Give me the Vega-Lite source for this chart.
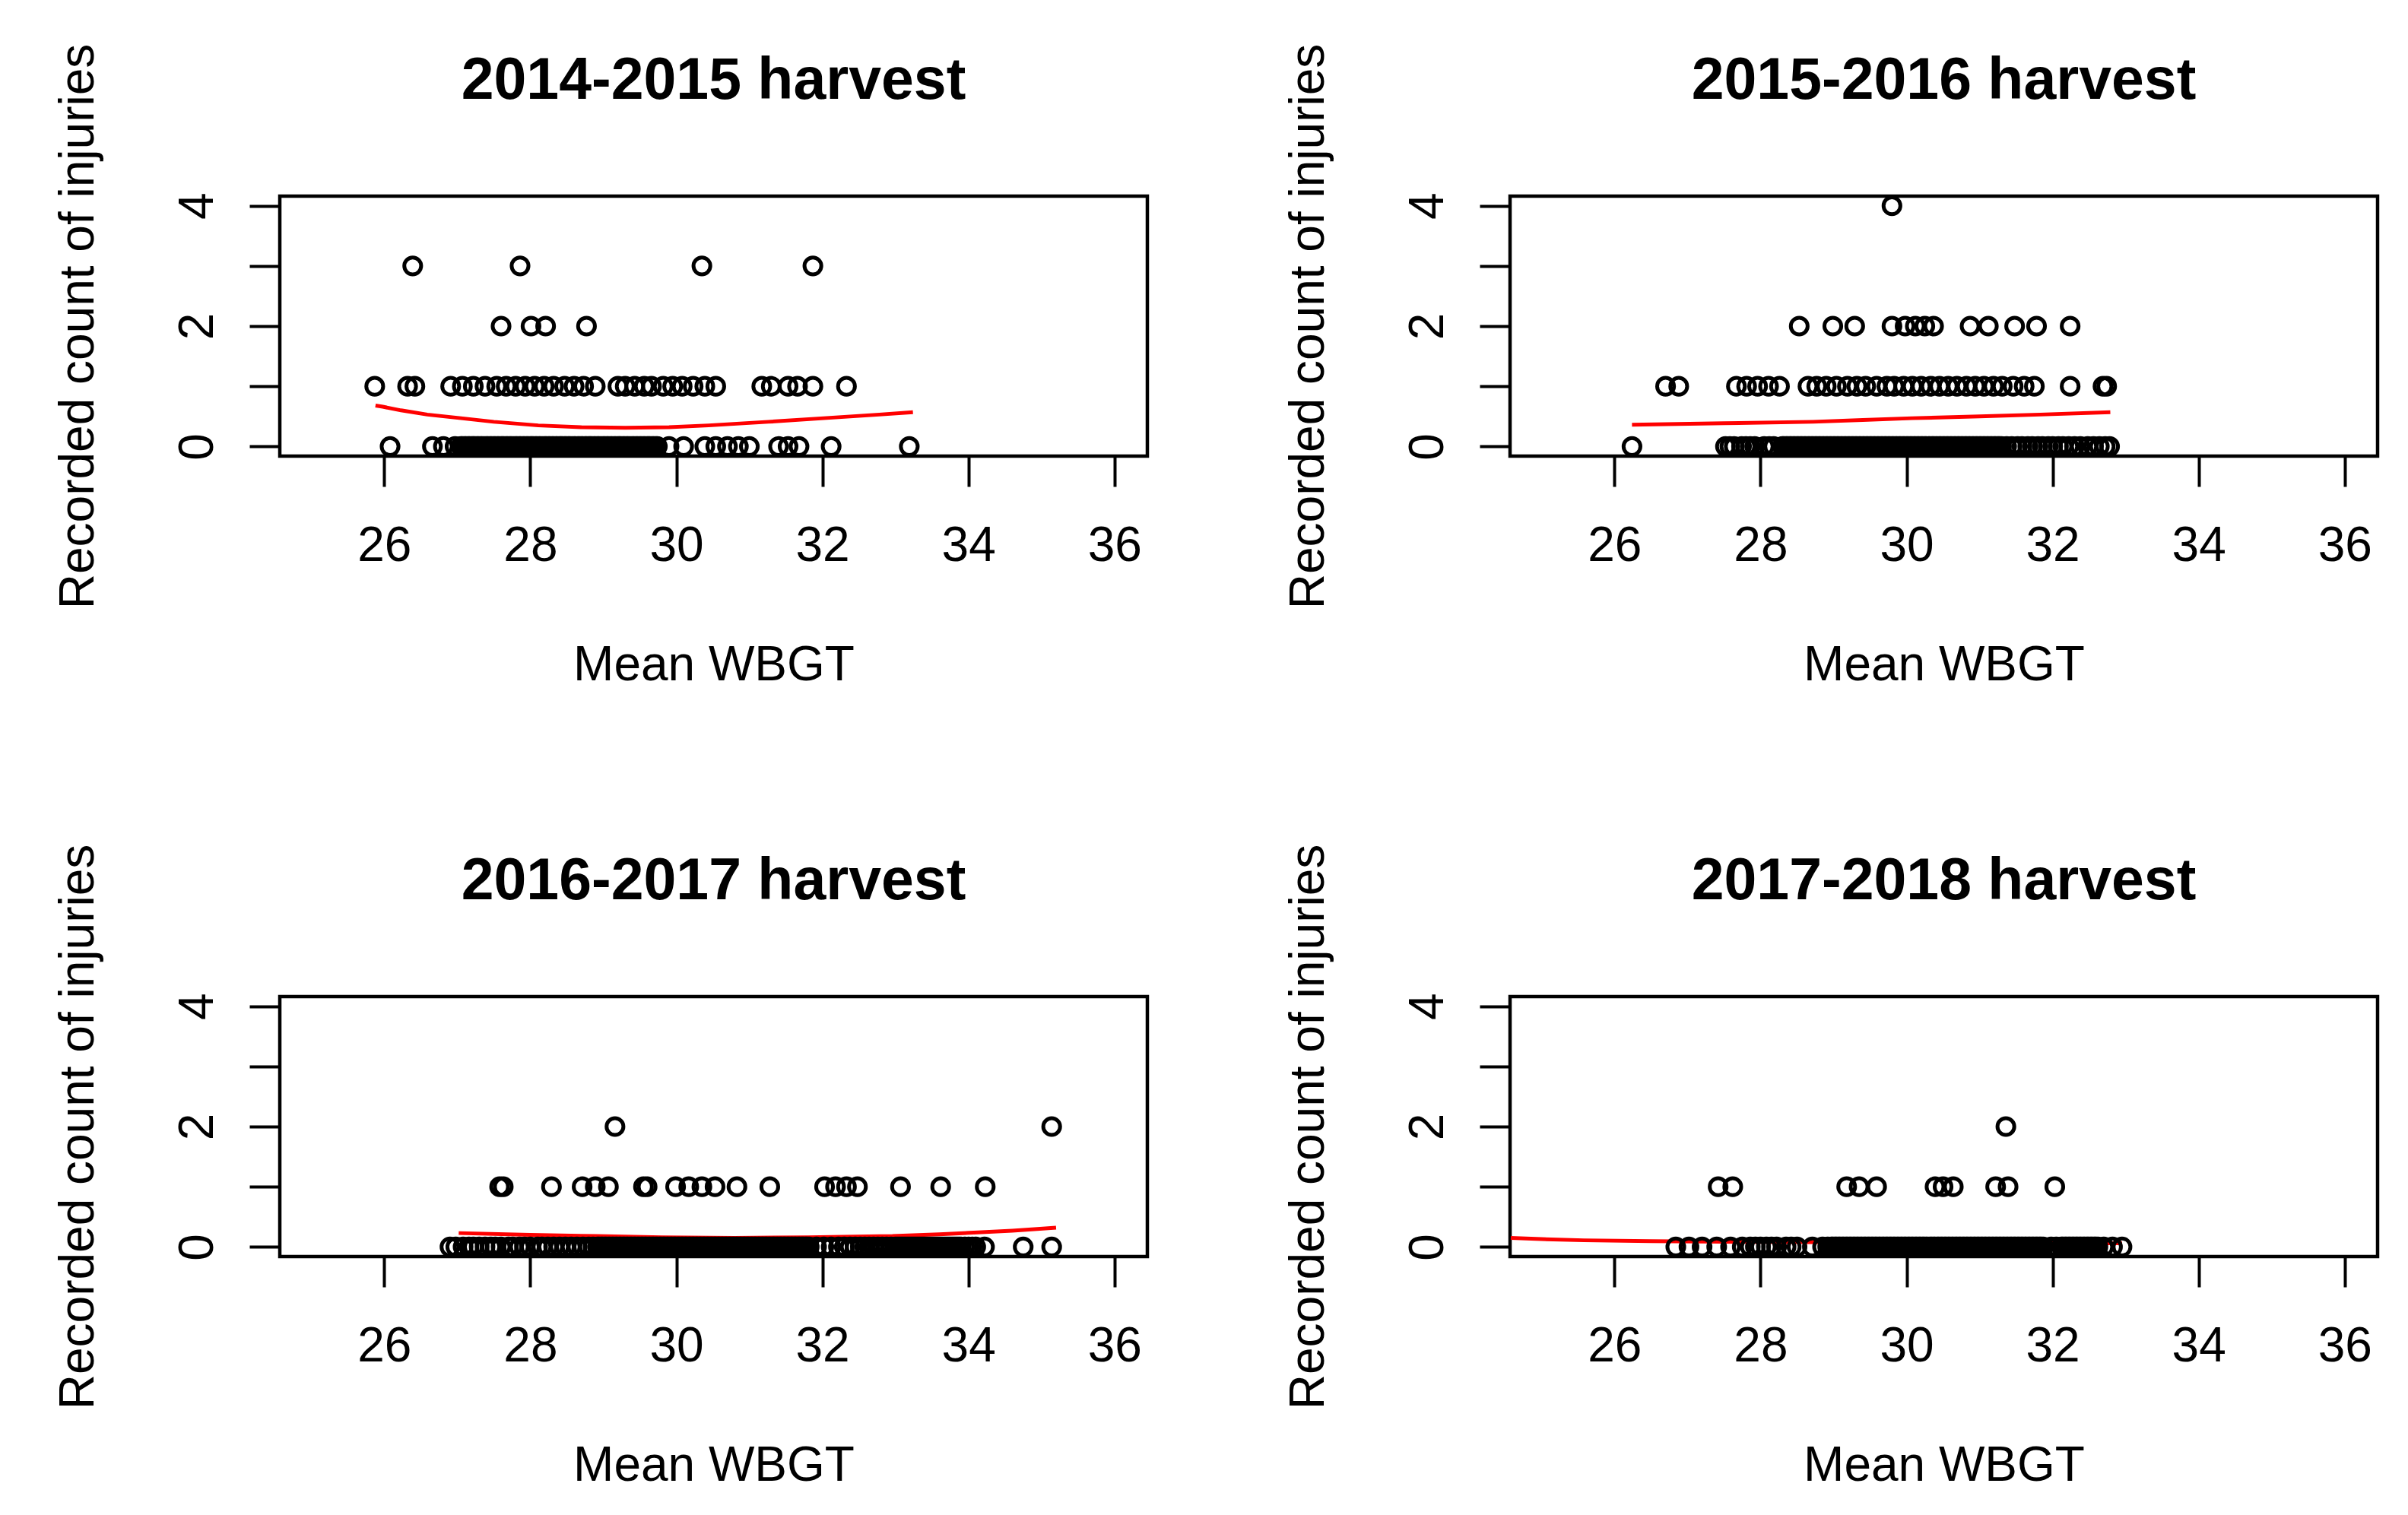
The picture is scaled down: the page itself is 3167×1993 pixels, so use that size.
{
"$schema": "https://vega.github.io/schema/vega-lite/v6.json",
"padding": {"left": 68, "top": 54, "right": 5, "bottom": 5},
"background": "white",
"bounds": "flush",
"columns": 2,
"spacing": {"row": 711, "column": 477},
"datasets": {
"fit": [
{"p":1,"w":25.88,"v":0.68},{"p":1,"w":25.98,"v":0.66},{"p":1,"w":26.23,"v":0.60},{"p":1,"w":26.59,"v":0.53},{"p":1,"w":27.05,"v":0.47},{"p":1,"w":27.5,"v":0.41},{"p":1,"w":28.11,"v":0.35},{"p":1,"w":28.7,"v":0.32},{"p":1,"w":29.3,"v":0.31},{"p":1,"w":29.9,"v":0.32},{"p":1,"w":30.44,"v":0.35},{"p":1,"w":31.26,"v":0.41},{"p":1,"w":32.02,"v":0.47},{"p":1,"w":32.78,"v":0.53},{"p":1,"w":33.24,"v":0.57},
{"p":2,"w":26.24,"v":0.36},{"p":2,"w":27.5,"v":0.385},{"p":2,"w":28.72,"v":0.41},{"p":2,"w":29.4,"v":0.44},{"p":2,"w":30.08,"v":0.47},{"p":2,"w":31.0,"v":0.50},{"p":2,"w":31.83,"v":0.53},{"p":2,"w":32.79,"v":0.57},
{"p":3,"w":27.02,"v":0.23},{"p":3,"w":28.0,"v":0.20},{"p":3,"w":28.9,"v":0.18},{"p":3,"w":29.8,"v":0.16},{"p":3,"w":30.8,"v":0.15},{"p":3,"w":31.8,"v":0.16},{"p":3,"w":32.96,"v":0.18},{"p":3,"w":33.6,"v":0.21},{"p":3,"w":34.13,"v":0.24},{"p":3,"w":34.6,"v":0.27},{"p":3,"w":34.98,"v":0.30},{"p":3,"w":35.2,"v":0.32},
{"p":4,"w":24.58,"v":0.15},{"p":4,"w":25.0,"v":0.13},{"p":4,"w":25.58,"v":0.11},{"p":4,"w":26.5,"v":0.095},{"p":4,"w":27.5,"v":0.085},{"p":4,"w":28.5,"v":0.08},{"p":4,"w":29.5,"v":0.075},{"p":4,"w":30.5,"v":0.07},{"p":4,"w":31.5,"v":0.065},{"p":4,"w":32.95,"v":0.06}
],
"pts": [
{"p":1,"w":26.39,"v":3},{"p":1,"w":27.86,"v":3},{"p":1,"w":30.35,"v":3},{"p":1,"w":31.87,"v":3},
{"p":1,"w":27.60,"v":2},{"p":1,"w":28.01,"v":2},{"p":1,"w":28.21,"v":2},{"p":1,"w":28.77,"v":2},
{"p":1,"w":25.87,"v":1},{"p":1,"w":26.32,"v":1},{"p":1,"w":26.42,"v":1},{"p":1,"w":26.91,"v":1},{"p":1,"w":27.07,"v":1},{"p":1,"w":27.22,"v":1},{"p":1,"w":27.38,"v":1},{"p":1,"w":27.54,"v":1},{"p":1,"w":27.67,"v":1},{"p":1,"w":27.80,"v":1},{"p":1,"w":27.93,"v":1},{"p":1,"w":28.06,"v":1},{"p":1,"w":28.19,"v":1},{"p":1,"w":28.32,"v":1},{"p":1,"w":28.47,"v":1},{"p":1,"w":28.60,"v":1},{"p":1,"w":28.73,"v":1},{"p":1,"w":28.89,"v":1},{"p":1,"w":29.20,"v":1},{"p":1,"w":29.30,"v":1},{"p":1,"w":29.43,"v":1},{"p":1,"w":29.56,"v":1},{"p":1,"w":29.66,"v":1},{"p":1,"w":29.82,"v":1},{"p":1,"w":29.95,"v":1},{"p":1,"w":30.08,"v":1},{"p":1,"w":30.23,"v":1},{"p":1,"w":30.39,"v":1},{"p":1,"w":30.54,"v":1},{"p":1,"w":31.17,"v":1},{"p":1,"w":31.30,"v":1},{"p":1,"w":31.53,"v":1},{"p":1,"w":31.66,"v":1},{"p":1,"w":31.87,"v":1},{"p":1,"w":32.33,"v":1},
{"p":1,"w":26.08,"v":0},{"p":1,"w":26.66,"v":0},{"p":1,"w":26.81,"v":0},{"p":1,"w":26.97,"v":0},{"p":1,"w":27.05,"v":0},{"p":1,"w":27.10,"v":0},{"p":1,"w":27.15,"v":0},{"p":1,"w":27.20,"v":0},{"p":1,"w":27.24,"v":0},{"p":1,"w":27.29,"v":0},{"p":1,"w":27.34,"v":0},{"p":1,"w":27.40,"v":0},{"p":1,"w":27.45,"v":0},{"p":1,"w":27.50,"v":0},{"p":1,"w":27.55,"v":0},{"p":1,"w":27.60,"v":0},{"p":1,"w":27.64,"v":0},{"p":1,"w":27.69,"v":0},{"p":1,"w":27.74,"v":0},{"p":1,"w":27.80,"v":0},{"p":1,"w":27.85,"v":0},{"p":1,"w":27.90,"v":0},{"p":1,"w":27.95,"v":0},{"p":1,"w":28.00,"v":0},{"p":1,"w":28.04,"v":0},{"p":1,"w":28.09,"v":0},{"p":1,"w":28.14,"v":0},{"p":1,"w":28.20,"v":0},{"p":1,"w":28.25,"v":0},{"p":1,"w":28.30,"v":0},{"p":1,"w":28.35,"v":0},{"p":1,"w":28.40,"v":0},{"p":1,"w":28.44,"v":0},{"p":1,"w":28.49,"v":0},{"p":1,"w":28.54,"v":0},{"p":1,"w":28.60,"v":0},{"p":1,"w":28.65,"v":0},{"p":1,"w":28.70,"v":0},{"p":1,"w":28.75,"v":0},{"p":1,"w":28.80,"v":0},{"p":1,"w":28.84,"v":0},{"p":1,"w":28.89,"v":0},{"p":1,"w":28.94,"v":0},{"p":1,"w":29.00,"v":0},{"p":1,"w":29.05,"v":0},{"p":1,"w":29.10,"v":0},{"p":1,"w":29.15,"v":0},{"p":1,"w":29.20,"v":0},{"p":1,"w":29.24,"v":0},{"p":1,"w":29.29,"v":0},{"p":1,"w":29.34,"v":0},{"p":1,"w":29.40,"v":0},{"p":1,"w":29.45,"v":0},{"p":1,"w":29.50,"v":0},{"p":1,"w":29.55,"v":0},{"p":1,"w":29.60,"v":0},{"p":1,"w":29.64,"v":0},{"p":1,"w":29.69,"v":0},{"p":1,"w":29.74,"v":0},{"p":1,"w":29.90,"v":0},{"p":1,"w":30.10,"v":0},{"p":1,"w":30.39,"v":0},{"p":1,"w":30.54,"v":0},{"p":1,"w":30.70,"v":0},{"p":1,"w":30.85,"v":0},{"p":1,"w":31.00,"v":0},{"p":1,"w":31.40,"v":0},{"p":1,"w":31.53,"v":0},{"p":1,"w":31.68,"v":0},{"p":1,"w":32.12,"v":0},{"p":1,"w":33.19,"v":0},
{"p":1,"w":27.07,"v":0},{"p":1,"w":27.12,"v":0},{"p":1,"w":27.17,"v":0},{"p":1,"w":27.22,"v":0},{"p":1,"w":27.27,"v":0},{"p":1,"w":27.32,"v":0},{"p":1,"w":27.37,"v":0},{"p":1,"w":27.42,"v":0},{"p":1,"w":27.47,"v":0},{"p":1,"w":27.52,"v":0},{"p":1,"w":27.57,"v":0},{"p":1,"w":27.62,"v":0},{"p":1,"w":27.67,"v":0},{"p":1,"w":27.72,"v":0},{"p":1,"w":27.77,"v":0},{"p":1,"w":27.82,"v":0},{"p":1,"w":27.87,"v":0},{"p":1,"w":27.92,"v":0},{"p":1,"w":27.97,"v":0},{"p":1,"w":28.02,"v":0},{"p":1,"w":28.07,"v":0},{"p":1,"w":28.12,"v":0},{"p":1,"w":28.17,"v":0},{"p":1,"w":28.22,"v":0},{"p":1,"w":28.27,"v":0},{"p":1,"w":28.32,"v":0},{"p":1,"w":28.37,"v":0},{"p":1,"w":28.42,"v":0},{"p":1,"w":28.47,"v":0},{"p":1,"w":28.52,"v":0},{"p":1,"w":28.57,"v":0},{"p":1,"w":28.62,"v":0},{"p":1,"w":28.67,"v":0},{"p":1,"w":28.72,"v":0},{"p":1,"w":28.77,"v":0},{"p":1,"w":28.82,"v":0},{"p":1,"w":28.87,"v":0},{"p":1,"w":28.92,"v":0},{"p":1,"w":28.97,"v":0},{"p":1,"w":29.02,"v":0},{"p":1,"w":29.07,"v":0},{"p":1,"w":29.12,"v":0},{"p":1,"w":29.17,"v":0},{"p":1,"w":29.22,"v":0},{"p":1,"w":29.27,"v":0},{"p":1,"w":29.32,"v":0},{"p":1,"w":29.37,"v":0},{"p":1,"w":29.42,"v":0},{"p":1,"w":29.47,"v":0},{"p":1,"w":29.52,"v":0},{"p":1,"w":29.57,"v":0},{"p":1,"w":29.62,"v":0},{"p":1,"w":29.67,"v":0},{"p":1,"w":29.72,"v":0},
{"p":2,"w":29.80,"v":4},
{"p":2,"w":28.53,"v":2},{"p":2,"w":28.99,"v":2},{"p":2,"w":29.29,"v":2},{"p":2,"w":29.80,"v":2},{"p":2,"w":29.98,"v":2},{"p":2,"w":30.12,"v":2},{"p":2,"w":30.25,"v":2},{"p":2,"w":30.37,"v":2},{"p":2,"w":30.87,"v":2},{"p":2,"w":31.12,"v":2},{"p":2,"w":31.48,"v":2},{"p":2,"w":31.78,"v":2},{"p":2,"w":32.24,"v":2},
{"p":2,"w":26.70,"v":1},{"p":2,"w":26.88,"v":1},{"p":2,"w":27.67,"v":1},{"p":2,"w":27.81,"v":1},{"p":2,"w":27.96,"v":1},{"p":2,"w":28.11,"v":1},{"p":2,"w":28.26,"v":1},{"p":2,"w":28.65,"v":1},{"p":2,"w":28.77,"v":1},{"p":2,"w":28.90,"v":1},{"p":2,"w":29.04,"v":1},{"p":2,"w":29.19,"v":1},{"p":2,"w":29.32,"v":1},{"p":2,"w":29.44,"v":1},{"p":2,"w":29.59,"v":1},{"p":2,"w":29.73,"v":1},{"p":2,"w":29.83,"v":1},{"p":2,"w":29.96,"v":1},{"p":2,"w":30.08,"v":1},{"p":2,"w":30.20,"v":1},{"p":2,"w":30.33,"v":1},{"p":2,"w":30.45,"v":1},{"p":2,"w":30.57,"v":1},{"p":2,"w":30.69,"v":1},{"p":2,"w":30.82,"v":1},{"p":2,"w":30.94,"v":1},{"p":2,"w":31.06,"v":1},{"p":2,"w":31.19,"v":1},{"p":2,"w":31.31,"v":1},{"p":2,"w":31.46,"v":1},{"p":2,"w":31.61,"v":1},{"p":2,"w":31.75,"v":1},{"p":2,"w":32.24,"v":1},{"p":2,"w":32.69,"v":1},{"p":2,"w":32.74,"v":1},
{"p":2,"w":26.24,"v":0},{"p":2,"w":27.52,"v":0},{"p":2,"w":27.58,"v":0},{"p":2,"w":27.64,"v":0},{"p":2,"w":27.74,"v":0},{"p":2,"w":27.80,"v":0},{"p":2,"w":27.86,"v":0},{"p":2,"w":27.92,"v":0},{"p":2,"w":28.05,"v":0},{"p":2,"w":28.12,"v":0},{"p":2,"w":28.18,"v":0},{"p":2,"w":28.30,"v":0},{"p":2,"w":28.35,"v":0},{"p":2,"w":28.40,"v":0},{"p":2,"w":28.45,"v":0},{"p":2,"w":28.50,"v":0},{"p":2,"w":28.55,"v":0},{"p":2,"w":28.60,"v":0},{"p":2,"w":28.65,"v":0},{"p":2,"w":28.70,"v":0},{"p":2,"w":28.75,"v":0},{"p":2,"w":28.80,"v":0},{"p":2,"w":28.85,"v":0},{"p":2,"w":28.90,"v":0},{"p":2,"w":28.95,"v":0},{"p":2,"w":29.00,"v":0},{"p":2,"w":29.05,"v":0},{"p":2,"w":29.10,"v":0},{"p":2,"w":29.15,"v":0},{"p":2,"w":29.20,"v":0},{"p":2,"w":29.25,"v":0},{"p":2,"w":29.30,"v":0},{"p":2,"w":29.35,"v":0},{"p":2,"w":29.40,"v":0},{"p":2,"w":29.45,"v":0},{"p":2,"w":29.50,"v":0},{"p":2,"w":29.55,"v":0},{"p":2,"w":29.60,"v":0},{"p":2,"w":29.65,"v":0},{"p":2,"w":29.70,"v":0},{"p":2,"w":29.75,"v":0},{"p":2,"w":29.80,"v":0},{"p":2,"w":29.85,"v":0},{"p":2,"w":29.90,"v":0},{"p":2,"w":29.95,"v":0},{"p":2,"w":30.00,"v":0},{"p":2,"w":30.05,"v":0},{"p":2,"w":30.10,"v":0},{"p":2,"w":30.15,"v":0},{"p":2,"w":30.20,"v":0},{"p":2,"w":30.25,"v":0},{"p":2,"w":30.30,"v":0},{"p":2,"w":30.35,"v":0},{"p":2,"w":30.40,"v":0},{"p":2,"w":30.45,"v":0},{"p":2,"w":30.50,"v":0},{"p":2,"w":30.55,"v":0},{"p":2,"w":30.60,"v":0},{"p":2,"w":30.65,"v":0},{"p":2,"w":30.70,"v":0},{"p":2,"w":30.75,"v":0},{"p":2,"w":30.80,"v":0},{"p":2,"w":30.85,"v":0},{"p":2,"w":30.90,"v":0},{"p":2,"w":30.95,"v":0},{"p":2,"w":31.00,"v":0},{"p":2,"w":31.05,"v":0},{"p":2,"w":31.10,"v":0},{"p":2,"w":31.15,"v":0},{"p":2,"w":31.20,"v":0},{"p":2,"w":31.25,"v":0},{"p":2,"w":31.30,"v":0},{"p":2,"w":31.37,"v":0},{"p":2,"w":31.44,"v":0},{"p":2,"w":31.52,"v":0},{"p":2,"w":31.58,"v":0},{"p":2,"w":31.66,"v":0},{"p":2,"w":31.72,"v":0},{"p":2,"w":31.80,"v":0},{"p":2,"w":31.86,"v":0},{"p":2,"w":31.94,"v":0},{"p":2,"w":32.00,"v":0},{"p":2,"w":32.08,"v":0},{"p":2,"w":32.14,"v":0},{"p":2,"w":32.22,"v":0},{"p":2,"w":32.30,"v":0},{"p":2,"w":32.38,"v":0},{"p":2,"w":32.48,"v":0},{"p":2,"w":32.56,"v":0},{"p":2,"w":32.64,"v":0},{"p":2,"w":32.72,"v":0},{"p":2,"w":32.78,"v":0},
{"p":2,"w":28.32,"v":0},{"p":2,"w":28.37,"v":0},{"p":2,"w":28.42,"v":0},{"p":2,"w":28.47,"v":0},{"p":2,"w":28.52,"v":0},{"p":2,"w":28.57,"v":0},{"p":2,"w":28.62,"v":0},{"p":2,"w":28.67,"v":0},{"p":2,"w":28.72,"v":0},{"p":2,"w":28.77,"v":0},{"p":2,"w":28.82,"v":0},{"p":2,"w":28.87,"v":0},{"p":2,"w":28.92,"v":0},{"p":2,"w":28.97,"v":0},{"p":2,"w":29.02,"v":0},{"p":2,"w":29.07,"v":0},{"p":2,"w":29.12,"v":0},{"p":2,"w":29.17,"v":0},{"p":2,"w":29.22,"v":0},{"p":2,"w":29.27,"v":0},{"p":2,"w":29.32,"v":0},{"p":2,"w":29.37,"v":0},{"p":2,"w":29.42,"v":0},{"p":2,"w":29.47,"v":0},{"p":2,"w":29.52,"v":0},{"p":2,"w":29.57,"v":0},{"p":2,"w":29.62,"v":0},{"p":2,"w":29.67,"v":0},{"p":2,"w":29.72,"v":0},{"p":2,"w":29.77,"v":0},{"p":2,"w":29.82,"v":0},{"p":2,"w":29.87,"v":0},{"p":2,"w":29.92,"v":0},{"p":2,"w":29.97,"v":0},{"p":2,"w":30.02,"v":0},{"p":2,"w":30.07,"v":0},{"p":2,"w":30.12,"v":0},{"p":2,"w":30.17,"v":0},{"p":2,"w":30.22,"v":0},{"p":2,"w":30.27,"v":0},{"p":2,"w":30.32,"v":0},{"p":2,"w":30.37,"v":0},{"p":2,"w":30.42,"v":0},{"p":2,"w":30.47,"v":0},{"p":2,"w":30.52,"v":0},{"p":2,"w":30.57,"v":0},{"p":2,"w":30.62,"v":0},{"p":2,"w":30.67,"v":0},{"p":2,"w":30.72,"v":0},{"p":2,"w":30.77,"v":0},{"p":2,"w":30.82,"v":0},{"p":2,"w":30.87,"v":0},{"p":2,"w":30.92,"v":0},{"p":2,"w":30.97,"v":0},{"p":2,"w":31.02,"v":0},{"p":2,"w":31.07,"v":0},{"p":2,"w":31.12,"v":0},{"p":2,"w":31.17,"v":0},{"p":2,"w":31.22,"v":0},{"p":2,"w":31.27,"v":0},
{"p":3,"w":29.16,"v":2},{"p":3,"w":35.14,"v":2},
{"p":3,"w":27.58,"v":1},{"p":3,"w":27.63,"v":1},{"p":3,"w":28.29,"v":1},{"p":3,"w":28.71,"v":1},{"p":3,"w":28.89,"v":1},{"p":3,"w":29.07,"v":1},{"p":3,"w":29.55,"v":1},{"p":3,"w":29.60,"v":1},{"p":3,"w":29.99,"v":1},{"p":3,"w":30.17,"v":1},{"p":3,"w":30.35,"v":1},{"p":3,"w":30.53,"v":1},{"p":3,"w":30.83,"v":1},{"p":3,"w":31.28,"v":1},{"p":3,"w":32.03,"v":1},{"p":3,"w":32.18,"v":1},{"p":3,"w":32.33,"v":1},{"p":3,"w":32.48,"v":1},{"p":3,"w":33.07,"v":1},{"p":3,"w":33.62,"v":1},{"p":3,"w":34.23,"v":1},
{"p":3,"w":26.90,"v":0},{"p":3,"w":26.98,"v":0},{"p":3,"w":27.08,"v":0},{"p":3,"w":27.16,"v":0},{"p":3,"w":27.22,"v":0},{"p":3,"w":27.30,"v":0},{"p":3,"w":27.38,"v":0},{"p":3,"w":27.46,"v":0},{"p":3,"w":27.52,"v":0},{"p":3,"w":27.60,"v":0},{"p":3,"w":27.70,"v":0},{"p":3,"w":27.76,"v":0},{"p":3,"w":27.85,"v":0},{"p":3,"w":27.92,"v":0},{"p":3,"w":28.00,"v":0},{"p":3,"w":28.10,"v":0},{"p":3,"w":28.16,"v":0},{"p":3,"w":28.24,"v":0},{"p":3,"w":28.32,"v":0},{"p":3,"w":28.40,"v":0},{"p":3,"w":28.48,"v":0},{"p":3,"w":28.56,"v":0},{"p":3,"w":28.64,"v":0},{"p":3,"w":28.72,"v":0},{"p":3,"w":28.80,"v":0},{"p":3,"w":28.86,"v":0},{"p":3,"w":28.92,"v":0},{"p":3,"w":28.97,"v":0},{"p":3,"w":29.02,"v":0},{"p":3,"w":29.07,"v":0},{"p":3,"w":29.12,"v":0},{"p":3,"w":29.17,"v":0},{"p":3,"w":29.22,"v":0},{"p":3,"w":29.27,"v":0},{"p":3,"w":29.32,"v":0},{"p":3,"w":29.37,"v":0},{"p":3,"w":29.42,"v":0},{"p":3,"w":29.47,"v":0},{"p":3,"w":29.52,"v":0},{"p":3,"w":29.57,"v":0},{"p":3,"w":29.62,"v":0},{"p":3,"w":29.67,"v":0},{"p":3,"w":29.72,"v":0},{"p":3,"w":29.77,"v":0},{"p":3,"w":29.82,"v":0},{"p":3,"w":29.87,"v":0},{"p":3,"w":29.92,"v":0},{"p":3,"w":29.97,"v":0},{"p":3,"w":30.02,"v":0},{"p":3,"w":30.07,"v":0},{"p":3,"w":30.12,"v":0},{"p":3,"w":30.17,"v":0},{"p":3,"w":30.22,"v":0},{"p":3,"w":30.27,"v":0},{"p":3,"w":30.32,"v":0},{"p":3,"w":30.37,"v":0},{"p":3,"w":30.42,"v":0},{"p":3,"w":30.47,"v":0},{"p":3,"w":30.52,"v":0},{"p":3,"w":30.57,"v":0},{"p":3,"w":30.62,"v":0},{"p":3,"w":30.67,"v":0},{"p":3,"w":30.72,"v":0},{"p":3,"w":30.77,"v":0},{"p":3,"w":30.82,"v":0},{"p":3,"w":30.87,"v":0},{"p":3,"w":30.92,"v":0},{"p":3,"w":30.97,"v":0},{"p":3,"w":31.02,"v":0},{"p":3,"w":31.07,"v":0},{"p":3,"w":31.12,"v":0},{"p":3,"w":31.17,"v":0},{"p":3,"w":31.22,"v":0},{"p":3,"w":31.27,"v":0},{"p":3,"w":31.32,"v":0},{"p":3,"w":31.37,"v":0},{"p":3,"w":31.42,"v":0},{"p":3,"w":31.47,"v":0},{"p":3,"w":31.52,"v":0},{"p":3,"w":31.57,"v":0},{"p":3,"w":31.62,"v":0},{"p":3,"w":31.67,"v":0},{"p":3,"w":31.72,"v":0},{"p":3,"w":31.77,"v":0},{"p":3,"w":31.82,"v":0},{"p":3,"w":31.92,"v":0},{"p":3,"w":32.02,"v":0},{"p":3,"w":32.12,"v":0},{"p":3,"w":32.22,"v":0},{"p":3,"w":32.30,"v":0},{"p":3,"w":32.38,"v":0},{"p":3,"w":32.45,"v":0},{"p":3,"w":32.52,"v":0},{"p":3,"w":32.58,"v":0},{"p":3,"w":32.64,"v":0},{"p":3,"w":32.70,"v":0},{"p":3,"w":32.76,"v":0},{"p":3,"w":32.82,"v":0},{"p":3,"w":32.88,"v":0},{"p":3,"w":32.94,"v":0},{"p":3,"w":33.00,"v":0},{"p":3,"w":33.06,"v":0},{"p":3,"w":33.12,"v":0},{"p":3,"w":33.18,"v":0},{"p":3,"w":33.24,"v":0},{"p":3,"w":33.30,"v":0},{"p":3,"w":33.36,"v":0},{"p":3,"w":33.42,"v":0},{"p":3,"w":33.48,"v":0},{"p":3,"w":33.54,"v":0},{"p":3,"w":33.60,"v":0},{"p":3,"w":33.66,"v":0},{"p":3,"w":33.72,"v":0},{"p":3,"w":33.78,"v":0},{"p":3,"w":33.84,"v":0},{"p":3,"w":33.90,"v":0},{"p":3,"w":33.95,"v":0},{"p":3,"w":34.00,"v":0},{"p":3,"w":34.05,"v":0},{"p":3,"w":34.10,"v":0},{"p":3,"w":34.22,"v":0},{"p":3,"w":34.75,"v":0},{"p":3,"w":35.14,"v":0},
{"p":3,"w":28.94,"v":0},{"p":3,"w":28.99,"v":0},{"p":3,"w":29.04,"v":0},{"p":3,"w":29.09,"v":0},{"p":3,"w":29.14,"v":0},{"p":3,"w":29.19,"v":0},{"p":3,"w":29.24,"v":0},{"p":3,"w":29.29,"v":0},{"p":3,"w":29.34,"v":0},{"p":3,"w":29.39,"v":0},{"p":3,"w":29.44,"v":0},{"p":3,"w":29.49,"v":0},{"p":3,"w":29.54,"v":0},{"p":3,"w":29.59,"v":0},{"p":3,"w":29.64,"v":0},{"p":3,"w":29.69,"v":0},{"p":3,"w":29.74,"v":0},{"p":3,"w":29.79,"v":0},{"p":3,"w":29.84,"v":0},{"p":3,"w":29.89,"v":0},{"p":3,"w":29.94,"v":0},{"p":3,"w":29.99,"v":0},{"p":3,"w":30.04,"v":0},{"p":3,"w":30.09,"v":0},{"p":3,"w":30.14,"v":0},{"p":3,"w":30.19,"v":0},{"p":3,"w":30.24,"v":0},{"p":3,"w":30.29,"v":0},{"p":3,"w":30.34,"v":0},{"p":3,"w":30.39,"v":0},{"p":3,"w":30.44,"v":0},{"p":3,"w":30.49,"v":0},{"p":3,"w":30.54,"v":0},{"p":3,"w":30.59,"v":0},{"p":3,"w":30.64,"v":0},{"p":3,"w":30.69,"v":0},{"p":3,"w":30.74,"v":0},{"p":3,"w":30.79,"v":0},{"p":3,"w":30.84,"v":0},{"p":3,"w":30.89,"v":0},{"p":3,"w":30.94,"v":0},{"p":3,"w":30.99,"v":0},{"p":3,"w":31.04,"v":0},{"p":3,"w":31.09,"v":0},{"p":3,"w":31.14,"v":0},{"p":3,"w":31.19,"v":0},{"p":3,"w":31.24,"v":0},{"p":3,"w":31.29,"v":0},{"p":3,"w":31.34,"v":0},{"p":3,"w":31.39,"v":0},{"p":3,"w":31.44,"v":0},{"p":3,"w":31.49,"v":0},{"p":3,"w":31.54,"v":0},{"p":3,"w":31.59,"v":0},{"p":3,"w":31.64,"v":0},{"p":3,"w":31.69,"v":0},{"p":3,"w":31.74,"v":0},{"p":3,"w":31.79,"v":0},{"p":3,"w":33.03,"v":0},{"p":3,"w":33.09,"v":0},{"p":3,"w":33.15,"v":0},{"p":3,"w":33.21,"v":0},{"p":3,"w":33.27,"v":0},{"p":3,"w":33.33,"v":0},{"p":3,"w":33.39,"v":0},{"p":3,"w":33.45,"v":0},{"p":3,"w":33.51,"v":0},{"p":3,"w":33.57,"v":0},{"p":3,"w":33.63,"v":0},{"p":3,"w":33.69,"v":0},{"p":3,"w":33.75,"v":0},{"p":3,"w":33.81,"v":0},{"p":3,"w":33.87,"v":0},
{"p":4,"w":31.36,"v":2},
{"p":4,"w":27.42,"v":1},{"p":4,"w":27.62,"v":1},{"p":4,"w":29.18,"v":1},{"p":4,"w":29.35,"v":1},{"p":4,"w":29.59,"v":1},{"p":4,"w":30.39,"v":1},{"p":4,"w":30.50,"v":1},{"p":4,"w":30.64,"v":1},{"p":4,"w":31.22,"v":1},{"p":4,"w":31.39,"v":1},{"p":4,"w":32.03,"v":1},
{"p":4,"w":26.84,"v":0},{"p":4,"w":27.02,"v":0},{"p":4,"w":27.20,"v":0},{"p":4,"w":27.40,"v":0},{"p":4,"w":27.59,"v":0},{"p":4,"w":27.75,"v":0},{"p":4,"w":27.86,"v":0},{"p":4,"w":27.93,"v":0},{"p":4,"w":28.00,"v":0},{"p":4,"w":28.08,"v":0},{"p":4,"w":28.15,"v":0},{"p":4,"w":28.22,"v":0},{"p":4,"w":28.35,"v":0},{"p":4,"w":28.42,"v":0},{"p":4,"w":28.50,"v":0},{"p":4,"w":28.71,"v":0},{"p":4,"w":28.85,"v":0},{"p":4,"w":28.92,"v":0},{"p":4,"w":28.97,"v":0},{"p":4,"w":29.02,"v":0},{"p":4,"w":29.07,"v":0},{"p":4,"w":29.12,"v":0},{"p":4,"w":29.17,"v":0},{"p":4,"w":29.22,"v":0},{"p":4,"w":29.27,"v":0},{"p":4,"w":29.32,"v":0},{"p":4,"w":29.37,"v":0},{"p":4,"w":29.42,"v":0},{"p":4,"w":29.47,"v":0},{"p":4,"w":29.52,"v":0},{"p":4,"w":29.57,"v":0},{"p":4,"w":29.62,"v":0},{"p":4,"w":29.67,"v":0},{"p":4,"w":29.72,"v":0},{"p":4,"w":29.77,"v":0},{"p":4,"w":29.82,"v":0},{"p":4,"w":29.87,"v":0},{"p":4,"w":29.92,"v":0},{"p":4,"w":29.97,"v":0},{"p":4,"w":30.02,"v":0},{"p":4,"w":30.07,"v":0},{"p":4,"w":30.12,"v":0},{"p":4,"w":30.17,"v":0},{"p":4,"w":30.22,"v":0},{"p":4,"w":30.27,"v":0},{"p":4,"w":30.32,"v":0},{"p":4,"w":30.37,"v":0},{"p":4,"w":30.42,"v":0},{"p":4,"w":30.47,"v":0},{"p":4,"w":30.52,"v":0},{"p":4,"w":30.57,"v":0},{"p":4,"w":30.62,"v":0},{"p":4,"w":30.67,"v":0},{"p":4,"w":30.72,"v":0},{"p":4,"w":30.77,"v":0},{"p":4,"w":30.82,"v":0},{"p":4,"w":30.87,"v":0},{"p":4,"w":30.92,"v":0},{"p":4,"w":30.97,"v":0},{"p":4,"w":31.02,"v":0},{"p":4,"w":31.07,"v":0},{"p":4,"w":31.12,"v":0},{"p":4,"w":31.17,"v":0},{"p":4,"w":31.22,"v":0},{"p":4,"w":31.27,"v":0},{"p":4,"w":31.32,"v":0},{"p":4,"w":31.37,"v":0},{"p":4,"w":31.42,"v":0},{"p":4,"w":31.47,"v":0},{"p":4,"w":31.52,"v":0},{"p":4,"w":31.57,"v":0},{"p":4,"w":31.62,"v":0},{"p":4,"w":31.67,"v":0},{"p":4,"w":31.72,"v":0},{"p":4,"w":31.77,"v":0},{"p":4,"w":31.82,"v":0},{"p":4,"w":31.87,"v":0},{"p":4,"w":31.98,"v":0},{"p":4,"w":32.05,"v":0},{"p":4,"w":32.12,"v":0},{"p":4,"w":32.17,"v":0},{"p":4,"w":32.22,"v":0},{"p":4,"w":32.27,"v":0},{"p":4,"w":32.32,"v":0},{"p":4,"w":32.37,"v":0},{"p":4,"w":32.42,"v":0},{"p":4,"w":32.47,"v":0},{"p":4,"w":32.52,"v":0},{"p":4,"w":32.57,"v":0},{"p":4,"w":32.62,"v":0},{"p":4,"w":32.70,"v":0},{"p":4,"w":32.82,"v":0},{"p":4,"w":32.95,"v":0},
{"p":4,"w":28.99,"v":0},{"p":4,"w":29.04,"v":0},{"p":4,"w":29.09,"v":0},{"p":4,"w":29.14,"v":0},{"p":4,"w":29.19,"v":0},{"p":4,"w":29.24,"v":0},{"p":4,"w":29.29,"v":0},{"p":4,"w":29.34,"v":0},{"p":4,"w":29.39,"v":0},{"p":4,"w":29.44,"v":0},{"p":4,"w":29.49,"v":0},{"p":4,"w":29.54,"v":0},{"p":4,"w":29.59,"v":0},{"p":4,"w":29.64,"v":0},{"p":4,"w":29.69,"v":0},{"p":4,"w":29.74,"v":0},{"p":4,"w":29.79,"v":0},{"p":4,"w":29.84,"v":0},{"p":4,"w":29.89,"v":0},{"p":4,"w":29.94,"v":0},{"p":4,"w":29.99,"v":0},{"p":4,"w":30.04,"v":0},{"p":4,"w":30.09,"v":0},{"p":4,"w":30.14,"v":0},{"p":4,"w":30.19,"v":0},{"p":4,"w":30.24,"v":0},{"p":4,"w":30.29,"v":0},{"p":4,"w":30.34,"v":0},{"p":4,"w":30.39,"v":0},{"p":4,"w":30.44,"v":0},{"p":4,"w":30.49,"v":0},{"p":4,"w":30.54,"v":0},{"p":4,"w":30.59,"v":0},{"p":4,"w":30.64,"v":0},{"p":4,"w":30.69,"v":0},{"p":4,"w":30.74,"v":0},{"p":4,"w":30.79,"v":0},{"p":4,"w":30.84,"v":0},{"p":4,"w":30.89,"v":0},{"p":4,"w":30.94,"v":0},{"p":4,"w":30.99,"v":0},{"p":4,"w":31.04,"v":0},{"p":4,"w":31.09,"v":0},{"p":4,"w":31.14,"v":0},{"p":4,"w":31.19,"v":0},{"p":4,"w":31.24,"v":0},{"p":4,"w":31.29,"v":0},{"p":4,"w":31.34,"v":0},{"p":4,"w":31.39,"v":0},{"p":4,"w":31.44,"v":0},{"p":4,"w":31.49,"v":0},{"p":4,"w":31.54,"v":0},{"p":4,"w":31.59,"v":0},{"p":4,"w":31.64,"v":0},{"p":4,"w":31.69,"v":0},{"p":4,"w":31.74,"v":0},{"p":4,"w":31.79,"v":0},{"p":4,"w":31.84,"v":0},{"p":4,"w":32.14,"v":0},{"p":4,"w":32.19,"v":0},{"p":4,"w":32.24,"v":0},{"p":4,"w":32.29,"v":0},{"p":4,"w":32.34,"v":0},{"p":4,"w":32.39,"v":0},{"p":4,"w":32.44,"v":0},{"p":4,"w":32.49,"v":0},{"p":4,"w":32.54,"v":0},{"p":4,"w":32.59,"v":0}
]
},
"concat": [
{"width":1141,"height":342,"title":"2014-2015 harvest",
 "encoding":{
  "x":{"field":"w","type":"quantitative","scale":{"domain":[24.57,36.45],"nice":false,"zero":false},"axis":{"values":[26,28,30,32,34,36],"title":"Mean WBGT"}},
  "y":{"field":"v","type":"quantitative","scale":{"domain":[-0.16,4.16],"nice":false,"zero":false},"axis":{"values":[0,1,2,3,4],"labelExpr":"datum.value % 2 == 0 ? datum.label : ''","title":"Recorded count of injuries"}}},
 "layer":[
  {"data":{"name":"fit"},"transform":[{"filter":"datum.p == 1"}],"mark":{"type":"line","color":"#ff0000","strokeWidth":5},"encoding":{}},
  {"data":{"name":"pts"},"transform":[{"filter":"datum.p == 1"}],"mark":{"type":"point","shape":"circle","filled":false,"color":"black","strokeWidth":5,"size":490,"opacity":1},"encoding":{}}
 ]},
{"width":1141,"height":342,"title":"2015-2016 harvest",
 "encoding":{
  "x":{"field":"w","type":"quantitative","scale":{"domain":[24.57,36.45],"nice":false,"zero":false},"axis":{"values":[26,28,30,32,34,36],"title":"Mean WBGT"}},
  "y":{"field":"v","type":"quantitative","scale":{"domain":[-0.16,4.16],"nice":false,"zero":false},"axis":{"values":[0,1,2,3,4],"labelExpr":"datum.value % 2 == 0 ? datum.label : ''","title":"Recorded count of injuries"}}},
 "layer":[
  {"data":{"name":"fit"},"transform":[{"filter":"datum.p == 2"}],"mark":{"type":"line","color":"#ff0000","strokeWidth":5},"encoding":{}},
  {"data":{"name":"pts"},"transform":[{"filter":"datum.p == 2"}],"mark":{"type":"point","shape":"circle","filled":false,"color":"black","strokeWidth":5,"size":490,"opacity":1},"encoding":{}}
 ]},
{"width":1141,"height":342,"title":"2016-2017 harvest",
 "encoding":{
  "x":{"field":"w","type":"quantitative","scale":{"domain":[24.57,36.45],"nice":false,"zero":false},"axis":{"values":[26,28,30,32,34,36],"title":"Mean WBGT"}},
  "y":{"field":"v","type":"quantitative","scale":{"domain":[-0.16,4.16],"nice":false,"zero":false},"axis":{"values":[0,1,2,3,4],"labelExpr":"datum.value % 2 == 0 ? datum.label : ''","title":"Recorded count of injuries"}}},
 "layer":[
  {"data":{"name":"fit"},"transform":[{"filter":"datum.p == 3"}],"mark":{"type":"line","color":"#ff0000","strokeWidth":5},"encoding":{}},
  {"data":{"name":"pts"},"transform":[{"filter":"datum.p == 3"}],"mark":{"type":"point","shape":"circle","filled":false,"color":"black","strokeWidth":5,"size":490,"opacity":1},"encoding":{}}
 ]},
{"width":1141,"height":342,"title":"2017-2018 harvest",
 "encoding":{
  "x":{"field":"w","type":"quantitative","scale":{"domain":[24.57,36.45],"nice":false,"zero":false},"axis":{"values":[26,28,30,32,34,36],"title":"Mean WBGT"}},
  "y":{"field":"v","type":"quantitative","scale":{"domain":[-0.16,4.16],"nice":false,"zero":false},"axis":{"values":[0,1,2,3,4],"labelExpr":"datum.value % 2 == 0 ? datum.label : ''","title":"Recorded count of injuries"}}},
 "layer":[
  {"data":{"name":"fit"},"transform":[{"filter":"datum.p == 4"}],"mark":{"type":"line","color":"#ff0000","strokeWidth":5},"encoding":{}},
  {"data":{"name":"pts"},"transform":[{"filter":"datum.p == 4"}],"mark":{"type":"point","shape":"circle","filled":false,"color":"black","strokeWidth":5,"size":490,"opacity":1},"encoding":{}}
 ]}
],
"config": {
 "font": "Liberation Sans",
 "view": {"stroke": "black", "strokeWidth": 4.5},
 "axis": {"domain": false, "grid": false, "ticks": true, "tickColor": "black", "tickWidth": 4, "tickSize": 40, "labelFontSize": 64, "labelColor": "black", "labelFont": "Liberation Sans", "titleFont": "Liberation Sans", "titleFontSize": 64, "titleFontWeight": "normal", "titleColor": "black", "labelOverlap": false, "labelFlush": false},
 "axisX": {"labelPadding": 46, "labelBaseline": "top", "labelAlign": "center", "labelAngle": 0, "titleX": 570.5, "titleY": 294, "titleBaseline": "alphabetic", "titleAlign": "center", "titleAngle": 0},
 "axisY": {"labelAngle": -90, "labelAlign": "center", "labelBaseline": "bottom", "labelPadding": 36, "titleAngle": -90, "titleX": -246, "titleY": 171, "titleBaseline": "alphabetic", "titleAlign": "center"},
 "title": {"fontSize": 77, "fontWeight": "bold", "font": "Liberation Sans", "color": "black", "anchor": "middle", "frame": "group", "baseline": "alphabetic", "offset": -89}
}
}
